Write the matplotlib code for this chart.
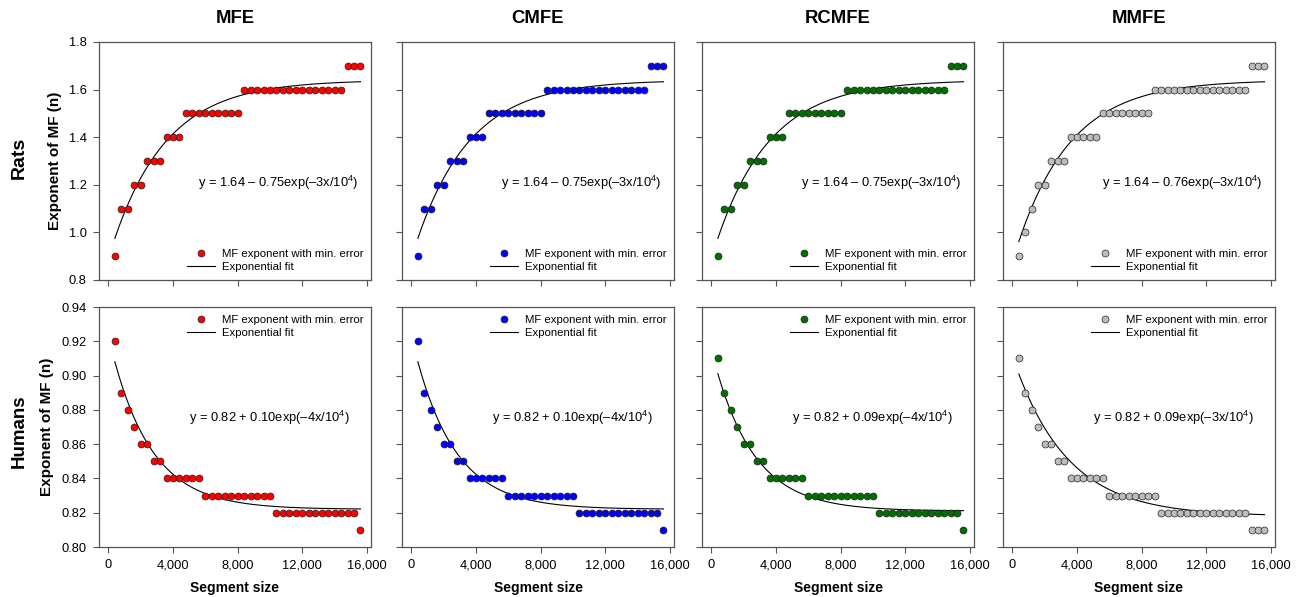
import numpy as np
import matplotlib
matplotlib.use('Agg')
import matplotlib.pyplot as plt
from matplotlib.ticker import FuncFormatter

plt.rcParams['font.family'] = ['Liberation Sans', 'DejaVu Sans']
plt.rcParams['mathtext.fontset'] = 'custom'
plt.rcParams['mathtext.rm'] = 'Liberation Sans'

# segment sizes (same for every panel)
seg = np.arange(400, 15601, 400)

methods = ['MFE', 'CMFE', 'RCMFE', 'MMFE']
colors = ['#ff0000', '#0000ff', '#007000', '#bdbdbd']

# exponent with min. error, rats (value, count) runs
rats_runs = {
    'MFE':   [(0.9, 1), (1.1, 2), (1.2, 2), (1.3, 3), (1.4, 3), (1.5, 9), (1.6, 16), (1.7, 3)],
    'CMFE':  [(0.9, 1), (1.1, 2), (1.2, 2), (1.3, 3), (1.4, 3), (1.5, 9), (1.6, 16), (1.7, 3)],
    'RCMFE': [(0.9, 1), (1.1, 2), (1.2, 2), (1.3, 3), (1.4, 3), (1.5, 9), (1.6, 16), (1.7, 3)],
    'MMFE':  [(0.9, 1), (1.0, 1), (1.1, 1), (1.2, 2), (1.3, 3), (1.4, 5), (1.5, 8), (1.6, 15), (1.7, 3)],
}
humans_runs = {
    'MFE':   [(0.92, 1), (0.89, 1), (0.88, 1), (0.87, 1), (0.86, 2), (0.85, 2), (0.84, 6), (0.83, 11), (0.82, 13), (0.81, 1)],
    'CMFE':  [(0.92, 1), (0.89, 1), (0.88, 1), (0.87, 1), (0.86, 2), (0.85, 2), (0.84, 6), (0.83, 11), (0.82, 13), (0.81, 1)],
    'RCMFE': [(0.91, 1), (0.89, 1), (0.88, 1), (0.87, 1), (0.86, 2), (0.85, 2), (0.84, 6), (0.83, 11), (0.82, 13), (0.81, 1)],
    'MMFE':  [(0.91, 1), (0.89, 1), (0.88, 1), (0.87, 1), (0.86, 2), (0.85, 2), (0.84, 6), (0.83, 8), (0.82, 14), (0.81, 3)],
}

# fit parameters y = a -/+ b*exp(-k*x)
rats_fit = {'MFE': (1.64, 0.75, 3e-4), 'CMFE': (1.64, 0.75, 3e-4),
            'RCMFE': (1.64, 0.75, 3e-4), 'MMFE': (1.64, 0.765, 3e-4)}
humans_fit = {'MFE': (0.822, 0.101, 4e-4), 'CMFE': (0.822, 0.101, 4e-4),
              'RCMFE': (0.821, 0.094, 4e-4), 'MMFE': (0.818, 0.0935, 3e-4)}

rats_eq = {'MFE': '0.75', 'CMFE': '0.75', 'RCMFE': '0.75', 'MMFE': '0.76'}
rats_k = {'MFE': '3', 'CMFE': '3', 'RCMFE': '3', 'MMFE': '3'}
humans_eq = {'MFE': '0.10', 'CMFE': '0.10', 'RCMFE': '0.09', 'MMFE': '0.09'}
humans_k = {'MFE': '4', 'CMFE': '4', 'RCMFE': '4', 'MMFE': '3'}


def expand(runs):
    return np.concatenate([[v] * n for v, n in runs])


fig = plt.figure(figsize=(13.05, 5.97), dpi=100)
W, H = 1305.0, 597.0
lefts = [99, 402, 702, 1003]
ax_w = 272
rows = [(42, 280), (307, 547)]

xfmt = FuncFormatter(lambda v, p: '{:,.0f}'.format(v))
xs = np.linspace(400, 15600, 200)

for r, (top, bot) in enumerate(rows):
    for c, m in enumerate(methods):
        ax = fig.add_axes([lefts[c] / W, 1 - bot / H, ax_w / W, (bot - top) / H])
        if r == 0:
            y = expand(rats_runs[m])
            a, b, k = rats_fit[m]
            fit = a - b * np.exp(-k * xs)
            eq = 'y = 1.64 \u2013 %sexp(\u2013%sx/10$^4$)' % (rats_eq[m], rats_k[m])
        else:
            y = expand(humans_runs[m])
            a, b, k = humans_fit[m]
            fit = a + b * np.exp(-k * xs)
            eq = 'y = 0.82 + %sexp(\u2013%sx/10$^4$)' % (humans_eq[m], humans_k[m])

        ax.plot(seg, y, 'o', ms=5, mfc=colors[c], mec='#222222', mew=0.5,
                label='MF exponent with min. error', zorder=3)
        ax.plot(xs, fit, color='black', lw=0.8, label='Exponential fit', zorder=2)

        ax.set_xlim(-580, 16250)
        ax.set_xticks(np.arange(0, 16001, 4000))
        ax.xaxis.set_major_formatter(xfmt)
        legend_kw = dict(frameon=False, fontsize=8.2, handlelength=2.4,
                         borderaxespad=0.3, labelspacing=0.25, handletextpad=0.6)
        if r == 0:
            ax.set_ylim(0.8, 1.8)
            ax.set_yticks(np.arange(0.8, 1.81, 0.2))
            ax.yaxis.set_major_formatter(FuncFormatter(lambda v, p: '%.1f' % v))
            ax.set_title(m, fontsize=13.3, fontweight='bold', pad=14)
            ax.tick_params(axis='x', labelbottom=False)
            ax.text(0.657, 0.41, eq, transform=ax.transAxes, ha='center',
                    va='center', fontsize=9.3)
            ax.legend(loc='lower right', **legend_kw)
        else:
            ax.set_ylim(0.80, 0.94)
            ax.set_yticks(np.arange(0.80, 0.941, 0.02))
            ax.yaxis.set_major_formatter(FuncFormatter(lambda v, p: '%.2f' % v))
            ax.set_xlabel('Segment size', fontsize=10, fontweight='bold', labelpad=7)
            ax.text(0.626, 0.537, eq, transform=ax.transAxes, ha='center',
                    va='center', fontsize=9.3)
            ax.legend(loc='upper right', **legend_kw)
        if c == 0:
            ax.set_ylabel('Exponent of MF (n)', fontsize=11, fontweight='bold', labelpad=5)
        else:
            ax.tick_params(axis='y', labelleft=False)

        ax.tick_params(direction='out', length=4, width=0.8, color='#555555',
                       labelsize=9.3, pad=5)
        for s in ax.spines.values():
            s.set_color('#555555')
            s.set_linewidth(0.9)

fig.text(19 / W, 1 - 158 / H, 'Rats', rotation=90, fontsize=14,
         fontweight='bold', ha='center', va='center')
fig.text(19 / W, 1 - 431 / H, 'Humans', rotation=90, fontsize=13.5,
         fontweight='bold', ha='center', va='center')

fig.savefig('out.png', dpi=100)
